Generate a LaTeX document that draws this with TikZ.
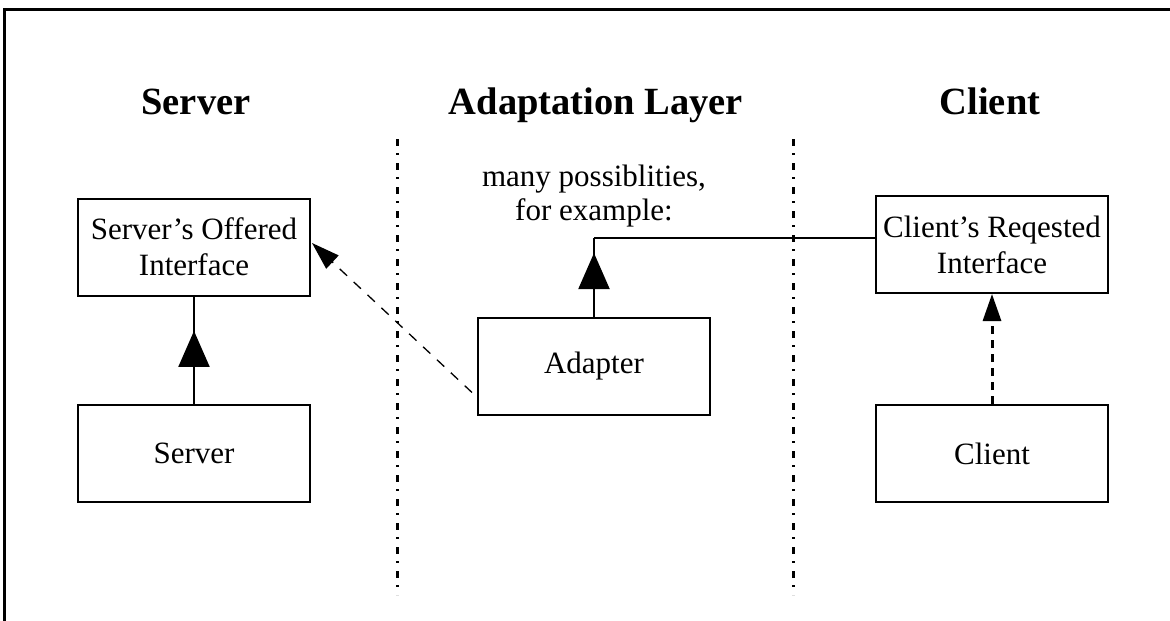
\documentclass[tikz,border=0pt]{standalone}
\usepackage{fontspec}
\setmainfont{Liberation Serif}
\usetikzlibrary{arrows.meta,decorations.markings,calc}

\begin{document}
\begin{tikzpicture}[x=1pt,y=-1pt,
  box/.style={draw,line width=2pt,minimum width=232pt,minimum height=97pt,
    inner sep=0pt,align=center,font=\fontsize{31}{36}\selectfont},
  heading/.style={anchor=base,inner sep=0pt,font=\fontsize{38.5}{44}\selectfont\bfseries},
  note/.style={inner sep=0pt,align=center,font=\fontsize{31}{34}\selectfont},
  divider/.style={line width=3pt,dash pattern=on 7pt off 7pt on 2pt off 8pt},
  inherit/.style={line width=2pt,postaction={decorate},
    decoration={markings,mark=at position #1 with {\arrow{Triangle[length=36pt,width=31pt]}}}},
  uses/.style={line width=1.3pt,dash pattern=on 10pt off 9pt,
    -{Triangle[length=28pt,width=18pt]}},
  realizes/.style={line width=3pt,dash pattern=on 8pt off 6pt,
    -{Triangle[length=27pt,width=18pt]}},
]
\useasboundingbox (0,0) rectangle (1170,621);

% outer frame (top and left edges)
\draw[line width=3pt] (4,621) -- (4,9) -- (1170,9);

% column headings
\node[heading] (hServer) at (196,114) {Server};
\node[heading] (hAdapt) at (596,114) {Adaptation Layer};
\node[heading] (hClient) at (990,114) {Client};

% layer dividers
\coordinate (d1top) at (397,139);
\coordinate (d1bot) at (397,595);
\coordinate (d2top) at (793,139);
\coordinate (d2bot) at (793,595);
\draw[divider] (d1top) -- (d1bot);
\draw[divider] (d2top) -- (d2bot);

% boxes
\node[box] (soi) at (194,247) {Server's Offered\\Interface};
\node[box] (server) at (194,453.5) {Server};
\node[box] (adapter) at (594,366.5) {Adapter};
\node[box] (cri) at (992,244.5) {Client's Reqested\\Interface};
\node[box] (client) at (992,453.5) {Client};

\node[note] (many) at (594,196) {many possiblities,\\for example:};

% connectors
\draw[inherit=0.68] (server.north) -- (soi.south);
\coordinate (bend) at (594,238);
\draw[inherit=0.81] (adapter.north) -- (bend);
\draw[line width=2pt] (bend) -- (bend -| cri.west);
\draw[uses] ($(adapter.west)+(-5,26)$) -- ($(soi.east)+(1,-4)$);
\draw[realizes] (client.north) -- (cri.south);
\end{tikzpicture}
\end{document}
